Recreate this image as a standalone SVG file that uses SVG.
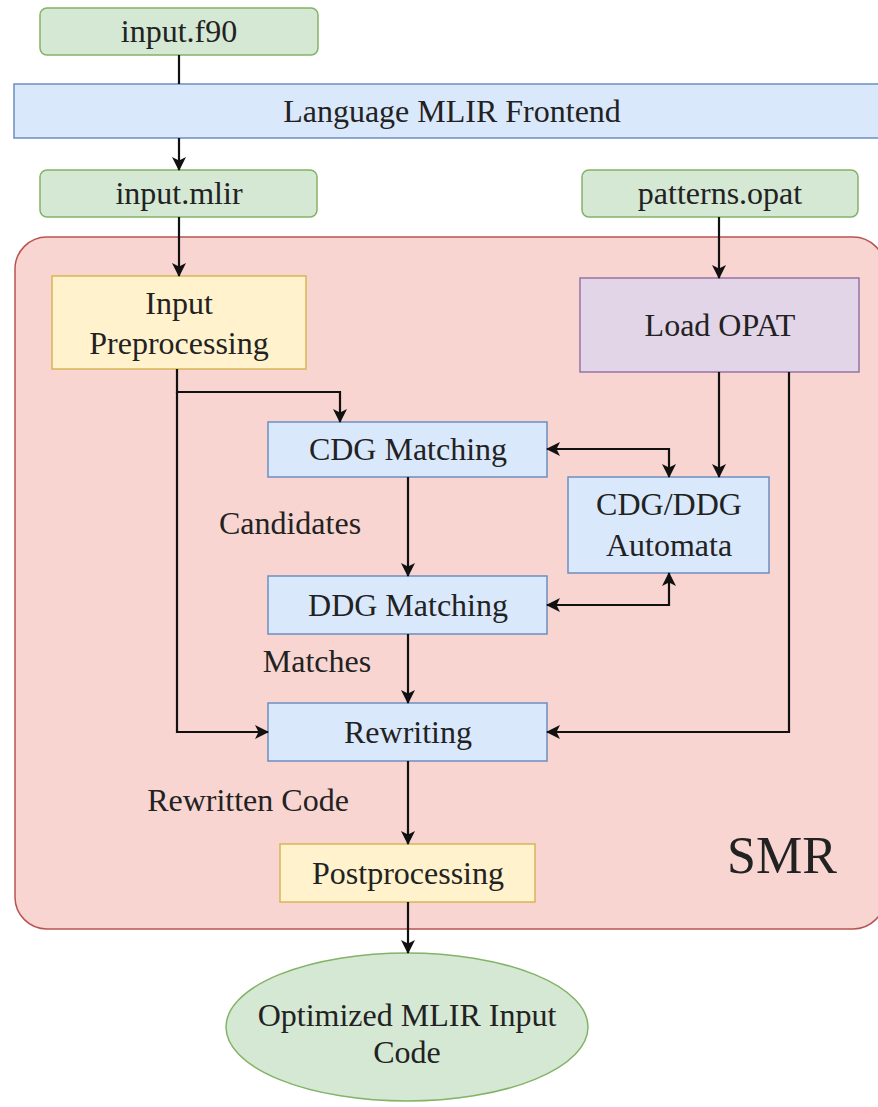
<svg xmlns="http://www.w3.org/2000/svg" width="878" height="1107" viewBox="0 0 878 1107" font-family="'Liberation Serif', 'DejaVu Serif', serif">
  <defs>
    <marker id="arrow" viewBox="0 0 14 14" refX="13" refY="7" markerWidth="14" markerHeight="14" markerUnits="userSpaceOnUse" orient="auto-start-reverse">
      <path d="M0,0 L14,7 L0,14 L3.5,7 Z" fill="#111"/>
    </marker>
    <style>
      text { font-family: 'Liberation Serif', 'DejaVu Serif', serif; font-size: 32px; fill: #222; text-anchor: middle; }
      .green { fill: #d5e8d4; stroke: #82b366; stroke-width: 1.5; }
      .blue { fill: #dae8fc; stroke: #6c8ebf; stroke-width: 1.5; }
      .yellow { fill: #fff2cc; stroke: #d6b656; stroke-width: 1.5; }
      .purple { fill: #e1d5e7; stroke: #9673a6; stroke-width: 1.5; }
      .edge { fill: none; stroke: #111; stroke-width: 2.2; }
      .arr { marker-end: url(#arrow); }
      .both { marker-start: url(#arrow); marker-end: url(#arrow); }
    </style>
  </defs>

  <rect width="878" height="1107" fill="#ffffff"/>

  <!-- SMR container -->
  <g id="smr">
    <rect x="15" y="237" width="870" height="692" rx="32" ry="32" fill="#f8d5d1" stroke="#b85450" stroke-width="1.5"/>
    <text x="782" y="873" style="font-size:52px">SMR</text>
  </g>

  <!-- Language frontend band -->
  <g id="frontend">
    <rect x="14" y="84" width="870" height="54" class="blue"/>
    <text x="452" y="122">Language MLIR Frontend</text>
  </g>

  <g id="input-f90">
    <rect x="40" y="8" width="278" height="47" rx="7" class="green"/>
    <text x="179" y="42">input.f90</text>
  </g>

  <g id="input-mlir">
    <rect x="40" y="170" width="277" height="47" rx="7" class="green"/>
    <text x="179" y="204">input.mlir</text>
  </g>

  <g id="patterns-opat">
    <rect x="582" y="170" width="276" height="47" rx="7" class="green"/>
    <text x="720" y="204">patterns.opat</text>
  </g>

  <g id="input-preprocessing">
    <rect x="52" y="276" width="254" height="93" class="yellow"/>
    <text x="179" y="314">Input</text>
    <text x="179" y="354">Preprocessing</text>
  </g>

  <g id="load-opat">
    <rect x="580" y="278" width="279" height="94" class="purple"/>
    <text x="720" y="336">Load OPAT</text>
  </g>

  <g id="cdg-matching">
    <rect x="268" y="422" width="279" height="55" class="blue"/>
    <text x="408" y="460">CDG Matching</text>
  </g>

  <g id="automata">
    <rect x="568" y="477" width="201" height="96" class="blue"/>
    <text x="669" y="515">CDG/DDG</text>
    <text x="669" y="556">Automata</text>
  </g>

  <g id="ddg-matching">
    <rect x="268" y="576" width="279" height="58" class="blue"/>
    <text x="408" y="616">DDG Matching</text>
  </g>

  <g id="rewriting">
    <rect x="268" y="703" width="279" height="58" class="blue"/>
    <text x="408" y="743">Rewriting</text>
  </g>

  <g id="postprocessing">
    <rect x="280" y="844" width="255" height="58" class="yellow"/>
    <text x="408" y="884">Postprocessing</text>
  </g>

  <g id="output">
    <ellipse cx="407" cy="1027" rx="181" ry="74" class="green"/>
    <text x="407" y="1026">Optimized MLIR Input</text>
    <text x="407" y="1063">Code</text>
  </g>

  <!-- edge labels -->
  <g id="labels">
    <text x="290" y="534">Candidates</text>
    <text x="317" y="672">Matches</text>
    <text x="248" y="811">Rewritten Code</text>
  </g>

  <!-- connectors -->
  <g id="connectors">
    <path class="edge" d="M179,55 V84"/>
    <path class="edge arr" d="M179,138 V170"/>
    <path class="edge arr" d="M179,217 V276"/>
    <path class="edge arr" d="M719,217 V278"/>
    <path class="edge arr" d="M177,369 V392 H340 V422"/>
    <path class="edge arr" d="M177,392 V732 H268"/>
    <path class="edge arr" d="M719,372 V477"/>
    <path class="edge both" d="M547,449 H669 V477"/>
    <path class="edge arr" d="M408,477 V576"/>
    <path class="edge both" d="M547,605 H669 V573"/>
    <path class="edge arr" d="M408,634 V703"/>
    <path class="edge arr" d="M789,372 V732 H547"/>
    <path class="edge arr" d="M408,761 V844"/>
    <path class="edge arr" d="M408,902 V953"/>
  </g>
</svg>
